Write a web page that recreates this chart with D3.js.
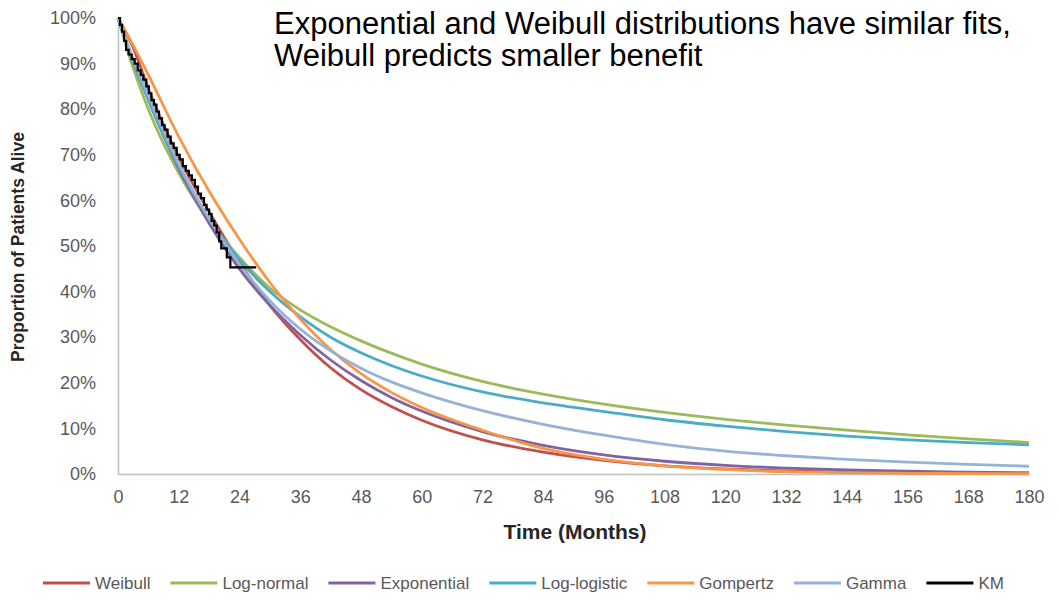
<!DOCTYPE html>
<html>
<head>
<meta charset="utf-8">
<script src="https://cdn.jsdelivr.net/npm/d3@7"></script>
<style>
  body { margin: 0; background: #fff; }
  text { font-family: "Liberation Sans", Arial, sans-serif; }
</style>
</head>
<body>
<script>
'use strict';

const months = [0, 3, 6, 12, 18, 24, 30, 36, 42, 48, 54, 60, 72, 84, 96, 108, 120, 132, 144, 156, 168, 180];

// survival (%) for each parametric fit
const weibull     = [100, 93.5, 84.5, 69.5, 57.5, 46.5, 37, 29.5, 23.3, 18.5, 14.8, 11.8, 7.5, 4.8, 3.0, 1.8, 1.1, 0.7, 0.4, 0.25, 0.15, 0.1];
const logNormal   = [100, 89, 80, 66, 55.5, 47.5, 40.8, 36.0, 32.3, 29.2, 26.5, 24.1, 20.3, 17.5, 15.3, 13.5, 12.0, 10.7, 9.6, 8.6, 7.7, 6.9];
const exponential = [100, 90.5, 82, 67, 55, 45, 37, 30.5, 25, 20.5, 16.8, 13.8, 9.3, 6.3, 4.2, 2.8, 1.9, 1.3, 0.9, 0.6, 0.4, 0.3];
const logLogistic = [100, 90.5, 82, 67.5, 56, 47, 40, 34.5, 30, 26.6, 23.8, 21.5, 18, 15.6, 13.7, 11.9, 10.5, 9.3, 8.3, 7.5, 6.9, 6.4];
const gompertz    = [100, 94, 87.5, 74, 62, 51.5, 42, 34, 27.3, 22, 17.9, 14.6, 9.6, 5.6, 3.2, 1.8, 1.0, 0.5, 0.3, 0.15, 0.1, 0.05];
const gamma       = [100, 91, 83, 68, 56, 46, 38, 31.8, 27, 23.2, 20.2, 17.8, 13.9, 10.9, 8.5, 6.5, 5.0, 4.0, 3.2, 2.6, 2.1, 1.7];

// Kaplan-Meier steps
const kmMonths   = [0, 0.4, 0.8, 1.2, 1.6, 2.1, 2.7, 3.3, 3.9, 4.5, 5.0, 5.6, 6.1, 6.6, 7.1, 7.6, 8.1, 8.7, 9.2, 9.8, 10.4, 11.0, 11.6, 12.2, 12.8, 13.4, 14.0, 14.6, 15.2, 15.8, 16.4, 17.0, 17.5, 18.0, 18.5, 19.0, 19.5, 20.0, 20.4, 21.5, 22.2, 27.3];
const kmSurvival = [100, 98.5, 97, 95, 93, 92, 91, 90, 88.5, 87.5, 86.5, 85, 83.5, 82, 81, 79.5, 78, 76.5, 75.5, 74, 72.5, 71.5, 70, 69, 67.5, 66.5, 65.5, 64.5, 63, 61.5, 60.5, 59, 58, 57, 55.5, 54.5, 53, 51, 49.5, 47.5, 45.3, 45.3];

const seriesNames  = ['Weibull', 'Log-normal', 'Exponential', 'Log-logistic', 'Gompertz', 'Gamma', 'KM'];
const seriesColors = ['#C0504D', '#9BBB59', '#8064A2', '#4BACC6', '#F79646', '#95B3D7', '#000000'];

const xTicks = d3.range(0, 181, 12);
const yTicks = d3.range(0, 101, 10);

(function() {

  let svgContainer = "";

  window.onload = function() {
    svgContainer = d3.select('body')
      .append('svg')
      .attr('width', 1059)
      .attr('height', 600);

    let maps = drawAxes();
    plotCurves(maps);
    makeLabels();
    makeLegend();
  }

  // axes: light grey lines, no tick marks
  function drawAxes() {
    let xScale = d3.scaleLinear()
      .domain([0, 180])
      .range([118, 1029]);

    let yScale = d3.scaleLinear()
      .domain([0, 100])
      .range([474, 18]);

    let xAxis = d3.axisBottom(xScale)
      .tickValues(xTicks)
      .tickSize(0)
      .tickPadding(16);
    let gx = svgContainer.append('g')
      .attr('transform', 'translate(0, 474)')
      .call(xAxis);

    let yAxis = d3.axisLeft(yScale)
      .tickValues(yTicks)
      .tickFormat((d) => d + '%')
      .tickSize(0)
      .tickPadding(22);
    let gy = svgContainer.append('g')
      .attr('transform', 'translate(118, 0)')
      .call(yAxis);

    [gx, gy].forEach((g) => {
      g.select('.domain').attr('stroke', '#BFBFBF').attr('stroke-width', 1.5);
      g.selectAll('text')
        .attr('fill', '#595959')
        .style('font-size', '18px')
        .style('font-family', '"Liberation Sans", Arial, sans-serif');
    });

    return { x: xScale, y: yScale };
  }

  function plotCurves(map) {
    let fits = [weibull, logNormal, exponential, logLogistic, gompertz, gamma];

    let line = d3.line()
      .x((d) => map.x(d[0]))
      .y((d) => map.y(d[1]))
      .curve(d3.curveMonotoneX);

    fits.forEach((vals, i) => {
      let pts = months.map((m, j) => [m, vals[j]]);
      svgContainer.append('path')
        .attr('fill', 'none')
        .attr('stroke', seriesColors[i])
        .attr('stroke-width', 2.8)
        .attr('d', line(pts));
    });

    let kmLine = d3.line()
      .x((d) => map.x(d[0]))
      .y((d) => map.y(d[1]))
      .curve(d3.curveStepAfter);

    let kmPts = kmMonths.map((m, j) => [m, kmSurvival[j]]);
    svgContainer.append('path')
      .attr('fill', 'none')
      .attr('stroke', seriesColors[6])
      .attr('stroke-width', 2.2)
      .attr('d', kmLine(kmPts));
  }

  function makeLabels() {
    let title = svgContainer.append('text')
      .style('font-size', '31px')
      .attr('fill', '#000');
    title.append('tspan').attr('x', 274).attr('y', 34)
      .text('Exponential and Weibull distributions have similar fits,');
    title.append('tspan').attr('x', 274).attr('y', 66)
      .text('Weibull predicts smaller benefit');

    svgContainer.append('text')
      .attr('x', 575)
      .attr('y', 539)
      .attr('text-anchor', 'middle')
      .style('font-size', '21px')
      .style('font-weight', 'bold')
      .attr('fill', '#262626')
      .text('Time (Months)');

    svgContainer.append('text')
      .attr('transform', 'translate(24, 247)rotate(-90)')
      .attr('text-anchor', 'middle')
      .style('font-size', '17.5px')
      .style('font-weight', 'bold')
      .attr('fill', '#262626')
      .text('Proportion of Patients Alive');
  }

  function makeLegend() {
    let legend = svgContainer.append('g');
    let xPos = 43;
    seriesNames.forEach((name, i) => {
      legend.append('line')
        .attr('x1', xPos)
        .attr('x2', xPos + 47)
        .attr('y1', 583)
        .attr('y2', 583)
        .attr('stroke', seriesColors[i])
        .attr('stroke-width', 2.8);
      let t = legend.append('text')
        .attr('x', xPos + 52)
        .attr('y', 589)
        .style('font-size', '17px')
        .attr('fill', '#595959')
        .text(name);
      xPos += 52 + t.node().getComputedTextLength() + 20;
    });
  }

})();
</script>
</body>
</html>
